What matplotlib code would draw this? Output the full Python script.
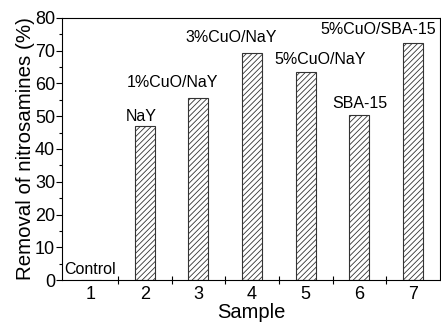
import numpy as np
import matplotlib.pyplot as plt

plt.rcParams['font.family'] = ['Liberation Sans', 'DejaVu Sans']
plt.rcParams['hatch.linewidth'] = 0.6

samples = [1, 2, 3, 4, 5, 6, 7]
names = ["Control", "NaY", "1%CuO/NaY", "3%CuO/NaY", "5%CuO/NaY", "SBA-15", "5%CuO/SBA-15"]
removal = [0, 46.9, 55.5, 69.2, 63.5, 50.3, 72.5]
# label anchor positions (x in sample units, y = baseline in data units)
label_x = [0.98, 1.94, 2.52, 3.61, 5.26, 6.0, 6.35]
label_y = [1.8, 48.4, 58.8, 72.8, 65.8, 52.4, 75.2]

fig = plt.figure(figsize=(4.41, 3.26), dpi=100)
ax = fig.add_axes([0.1406, 0.141, 0.857, 0.804])

ax.bar(samples, removal, width=0.37, color='white', edgecolor='#333333',
       linewidth=0.8, hatch='//////')

for x, y, s in zip(label_x, label_y, names):
    ax.text(x, y, s, ha='center', va='baseline', fontsize=11.5)

ax.set_xlim(0.46, 7.5)
ax.set_ylim(0, 80)
ax.set_xticks(np.arange(1.5, 7.5, 1.0))
ax.set_xticklabels([])
ax.set_xticks(samples, minor=True)
ax.set_xticklabels([str(s) for s in samples], minor=True, fontsize=13)
ax.tick_params(axis='x', which='major', direction='inout', length=6, width=0.8)
ax.tick_params(axis='x', which='minor', length=0, pad=4)

ax.set_yticks(np.arange(0, 81, 10))
ax.set_yticks(np.arange(5, 80, 10), minor=True)
ax.tick_params(axis='y', which='major', direction='out', length=4, width=0.8, labelsize=13, pad=1)
ax.tick_params(axis='y', which='minor', direction='out', length=2, width=0.8)

ax.set_xlabel("Sample", fontsize=14.5, labelpad=0)
ax.set_ylabel("Removal of nitrosamines (%)", fontsize=14.8, labelpad=0)

fig.savefig("out.png", dpi=100)
